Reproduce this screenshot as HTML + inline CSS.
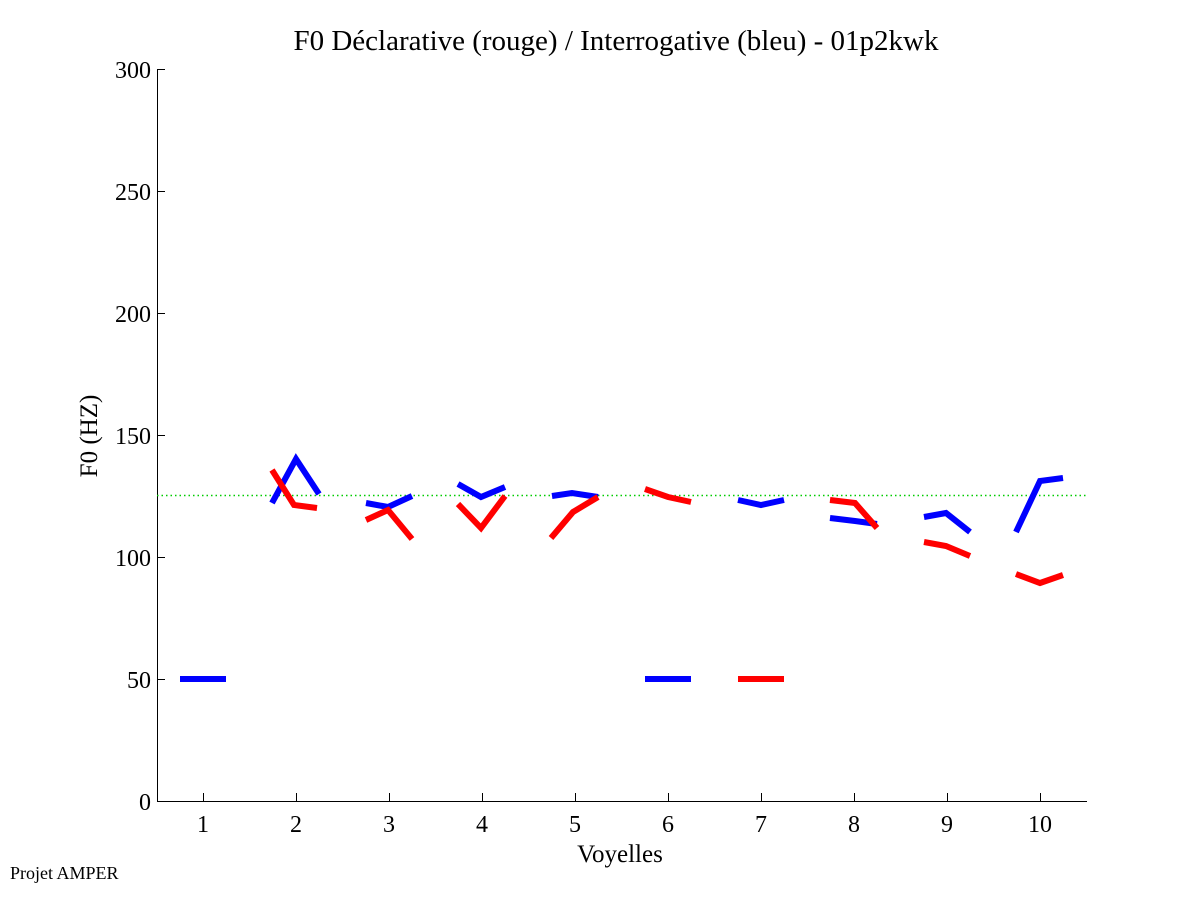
<!DOCTYPE html>
<html><head><meta charset="utf-8"><style>body{margin:0;background:#fff}svg{display:block}</style></head><body>
<svg width="1201" height="901" xmlns="http://www.w3.org/2000/svg" font-family="Liberation Serif, serif">
<rect width="1201" height="901" fill="#fff"/>
<text x="616" y="50" font-size="29" text-anchor="middle">F0 Déclarative (rouge) / Interrogative (bleu) - 01p2kwk</text>
<g stroke="#000" stroke-width="1" fill="none">
<line x1="157.5" y1="69" x2="157.5" y2="801"/>
<line x1="157" y1="801.5" x2="1087" y2="801.5"/>
<line x1="157" y1="69.5" x2="165" y2="69.5"/>
<line x1="157" y1="191.5" x2="165" y2="191.5"/>
<line x1="157" y1="313.5" x2="165" y2="313.5"/>
<line x1="157" y1="435.5" x2="165" y2="435.5"/>
<line x1="157" y1="557.5" x2="165" y2="557.5"/>
<line x1="157" y1="679.5" x2="165" y2="679.5"/>
<line x1="203.5" y1="801" x2="203.5" y2="793"/>
<line x1="296.5" y1="801" x2="296.5" y2="793"/>
<line x1="389.5" y1="801" x2="389.5" y2="793"/>
<line x1="482.5" y1="801" x2="482.5" y2="793"/>
<line x1="575.5" y1="801" x2="575.5" y2="793"/>
<line x1="668.5" y1="801" x2="668.5" y2="793"/>
<line x1="761.5" y1="801" x2="761.5" y2="793"/>
<line x1="854.5" y1="801" x2="854.5" y2="793"/>
<line x1="947.5" y1="801" x2="947.5" y2="793"/>
<line x1="1040.5" y1="801" x2="1040.5" y2="793"/>
</g>
<g font-size="24" text-anchor="end">
<text x="151" y="78">300</text><text x="151" y="200">250</text><text x="151" y="322">200</text>
<text x="151" y="444">150</text><text x="151" y="566">100</text><text x="151" y="688">50</text><text x="151" y="810">0</text>
</g>
<g font-size="24" text-anchor="middle">
<text x="203" y="832">1</text><text x="296" y="832">2</text><text x="389" y="832">3</text><text x="482" y="832">4</text>
<text x="575" y="832">5</text><text x="668" y="832">6</text><text x="761" y="832">7</text><text x="854" y="832">8</text>
<text x="947" y="832">9</text><text x="1040" y="832">10</text>
<text x="620" y="862" font-size="25">Voyelles</text>
<text transform="translate(97,436) rotate(-90)" font-size="25">F0 (HZ)</text>
</g>
<text x="10" y="879" font-size="18">Projet AMPER</text>
<line x1="157" y1="495.5" x2="1087" y2="495.5" stroke="#0c0" stroke-width="1.5" stroke-dasharray="1.5,3"/>
<g fill="none" stroke-width="6" stroke-linejoin="miter">
<g stroke="#00f">
<polyline points="180,679 226,679"/>
<polyline points="645,679 691,679"/>
<polyline points="272,503 296,459 319,494"/>
<polyline points="366,503 388,507 412,496"/>
<polyline points="458,484 481,497 505,487"/>
<polyline points="552,496 572,493 598,497"/>
<polyline points="738,500 761,505 784,500"/>
<polyline points="830,518 855,521 877,524"/>
<polyline points="924,517 946,513 970,532"/>
<polyline points="1016,532 1040,481 1063,478"/>
</g>
<g stroke="#f00">
<polyline points="738,679 784,679"/>
<polyline points="272,470 294,505 317,508"/>
<polyline points="366,520 388,510 412,539"/>
<polyline points="458,504 481,528 505,496"/>
<polyline points="551,538 573,512 598,497"/>
<polyline points="645,489 668,497 691,502"/>
<polyline points="830,500 855,503 877,528"/>
<polyline points="924,542 946,546 970,556"/>
<polyline points="1016,574 1040,583 1063,575"/>
</g>
</g>
</svg>
</body></html>
